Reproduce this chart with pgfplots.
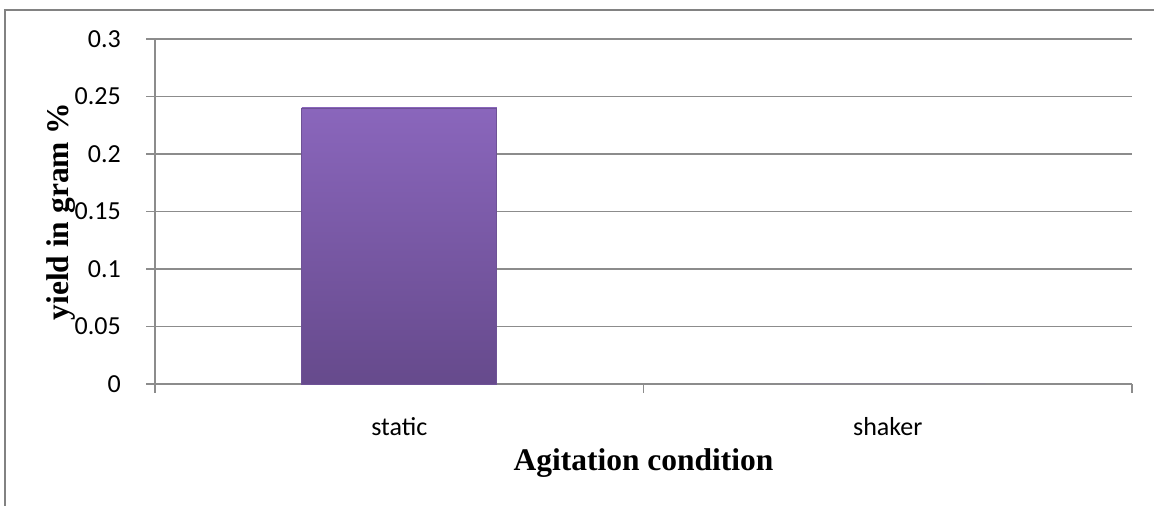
\documentclass[border=0pt]{standalone}
\usepackage{fontspec}
\setmainfont{Liberation Serif}
\newfontfamily\calibri{Carlito}
\usepackage{pgfplots}
\pgfplotsset{compat=1.18}

\definecolor{gridgray}{RGB}{140,140,140}
\definecolor{framegray}{RGB}{130,130,130}
\definecolor{bartop}{RGB}{138,102,188}
\definecolor{barbot}{RGB}{102,74,140}
\definecolor{baredge}{RGB}{110,82,150}

\begin{document}
\begin{tikzpicture}[x=1bp,y=1bp]
\path[use as bounding box] (0,0) rectangle (1154,506);

% outer chart frame (cut off on the right and at the bottom)
\draw[framegray, line width=2.5bp] (5,0) -- (5,497.2);
\draw[framegray, line width=2.5bp] (3.75,496) -- (1154,496);

\begin{axis}[
  at={(155bp,122bp)},
  anchor=south west,
  scale only axis,
  width=977bp, height=345bp,
  xmin=-0.5, xmax=1.5,
  ymin=0, ymax=0.3,
  axis x line*=bottom,
  axis y line*=left,
  axis line style={gridgray, line width=1.3bp, -},
  ytick={0,0.05,0.1,0.15,0.2,0.25,0.3},
  yticklabels={0,0.05,0.1,0.15,0.2,0.25,0.3},
  ymajorgrids,
  y grid style={gridgray, line width=1.3bp},
  xtick={0,1},
  xticklabels={static,shaker},
  major x tick style={draw=none},
  minor xtick={-0.5,0.5,1.5},
  minor x tick style={gridgray, line width=1.3bp},
  major y tick style={gridgray, line width=1.3bp},
  tick align=outside,
  major tick length=9bp,
  minor tick length=9bp,
  yticklabel style={font=\calibri\fontsize{26bp}{30bp}\selectfont, anchor=east, inner sep=0pt, xshift=-25bp},
  xticklabel style={font=\calibri\fontsize{26bp}{30bp}\selectfont, anchor=base, inner sep=0pt, yshift=-43bp},
  xlabel={Agitation condition},
  ylabel={yield in gram \%},
  xlabel style={font=\fontsize{31.5bp}{36bp}\selectfont\bfseries, at={(axis description cs:0.5,0)}, anchor=base, yshift=-87bp, inner sep=0pt},
  ylabel style={font=\fontsize{31.5bp}{36bp}\selectfont\bfseries, at={(axis description cs:0,0.5)}, anchor=base, yshift=86bp, inner sep=0pt},
  ybar,
  bar width=195bp,
  bar shift=0pt,
  clip=false,
]
\addplot[draw=baredge, line width=0.8bp, top color=bartop, bottom color=barbot]
  coordinates {(0,0.24)};
\addplot[draw=none, fill=bartop]
  coordinates {(1,0)};
\end{axis}
\end{tikzpicture}
\end{document}
